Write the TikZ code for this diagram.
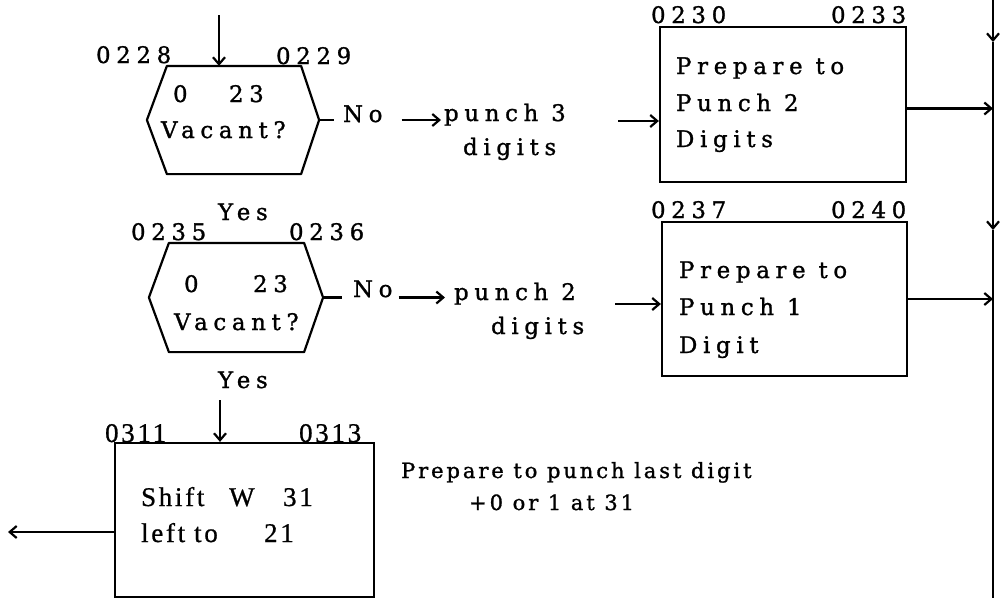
\documentclass[tikz,border=0pt]{standalone}
\usepackage{fontspec}
\setmainfont{DejaVu Serif}[LetterSpace=25,FakeBold=1.2]
\newfontfamily\midfont{DejaVu Serif}[LetterSpace=14,FakeBold=1.2]
\newfontfamily\tightfont{Liberation Serif}[LetterSpace=10,FakeBold=0.8]
\usetikzlibrary{arrows.meta,calc}
\begin{document}
\begin{tikzpicture}[x=1pt,y=-1pt,line width=2.2pt,
  txt/.style={inner sep=0pt,anchor=base west,font=\fontsize{22.8}{36}\selectfont},
  mtxt/.style={inner sep=0pt,anchor=base west,font=\midfont\fontsize{21}{36}\selectfont},
  ttxt/.style={inner sep=0pt,anchor=base west,font=\tightfont\fontsize{27}{36}\selectfont},
  arr/.style={-{Straight Barb[length=7pt,width=12pt]}},
  box/.style={draw,inner sep=0pt},
  hexbase/.style={inner sep=0pt}]
\useasboundingbox (0,0) rectangle (1006,598);

% vertical bus line
\coordinate (vt) at (993,0);
\coordinate (vm1) at (993,42);
\coordinate (vm2) at (993,230);
\coordinate (vb) at (993,598);
\draw[arr] (vt) -- (vm1);
\draw[arr] (vm1) -- (vm2);
\draw (vm2) -- (vb);

% ---------- first decision ----------
\node[hexbase,minimum width=132pt,minimum height=106pt] (h1) at (234,120) {};
\coordinate (h1r) at ([xshift=18pt]h1.east);
\coordinate (h1l) at ([xshift=-20pt]h1.west);
\draw[line join=round] (h1.north west) -- (h1.north east) -- (h1r) -- (h1.south east) -- (h1.south west) -- (h1l) -- cycle;
\coordinate (a1) at (219,15);
\draw[arr] (a1) -- (a1 |- h1.north);
\node[txt] (l0228) at (95,63) {0228};
\node[txt] (l0229) at (275,64) {0229};
\node[txt] (h1n) at (172,102) {\makebox[56pt][l]{0}23};
\node[txt] (h1q) at (160,138) {Vacant?};
\node[txt] (no1) at (342,122) {No};
\draw[shorten >=8pt] (h1r) -- (h1r -| no1.west);
\node[txt] (p1a) at (443,121) {punch 3};
\node[txt] (p1b) at (462,155) {digits};
\draw[arr,shorten <=18pt,shorten >=2pt] (h1r -| no1.east) -- (h1r -| p1a.west);

% ---------- first box ----------
\node[box,minimum width=246pt,minimum height=155pt] (b1) at (783,104.5) {};
\node[txt] (l0230) at (650,23) {0230};
\node[txt] (l0233) at (830,23) {0233};
\node[txt] (b1a) at (675,74) {Prepare to};
\node[txt] (b1b) at (675,111) {Punch 2};
\node[txt] (b1c) at (675,147) {Digits};
\coordinate (c1) at (618,121);
\draw[arr] (c1) -- (c1 -| b1.west);
\draw[arr] ([yshift=-4pt]b1.east) -- ([yshift=-4pt]b1.east -| vt);

% ---------- second decision ----------
\node[txt] (y1) at (217,220) {Yes};
\node[hexbase,minimum width=133pt,minimum height=107pt] (h2) at (236.5,297.5) {};
\coordinate (h2r) at ([xshift=19pt]h2.east);
\coordinate (h2l) at ([xshift=-20pt]h2.west);
\draw[line join=round] (h2.north west) -- (h2.north east) -- (h2r) -- (h2.south east) -- (h2.south west) -- (h2l) -- cycle;
\node[txt] (l0235) at (130,240) {0235};
\node[txt] (l0236) at (288,240) {0236};
\node[txt] (h2n) at (183,292) {\makebox[69pt][l]{0}23};
\node[txt] (h2q) at (173,330) {Vacant?};
\node[txt] (y2) at (217,388) {Yes};
\node[txt] (no2) at (352,297) {No};
\draw[shorten >=10pt] (h2r) -- (h2r -| no2.west);
\node[txt] (p2a) at (453,300) {punch 2};
\node[txt] (p2b) at (490,334) {digits};
\draw[arr,shorten <=5pt,shorten >=8pt] (h2r -| no2.east) -- (h2r -| p2a.west);

% ---------- second box ----------
\node[box,minimum width=245pt,minimum height=154pt] (b2) at (784.5,299) {};
\node[txt] (l0237) at (650,218) {0237};
\node[txt] (l0240) at (830,218) {0240};
\node[txt] (b2a) at (678,278) {Prepare to};
\node[txt] (b2b) at (678,315) {Punch 1};
\node[txt] (b2c) at (678,353) {Digit};
\coordinate (c2) at (615,304);
\draw[arr] (c2) -- (c2 -| b2.west);
\draw[arr] (b2.east) -- (b2.east -| vt);

% ---------- third box ----------
\node[box,minimum width=259pt,minimum height=154pt] (b3) at (244.5,520) {};
\node[ttxt] (l0311) at (104,442) {0311};
\node[ttxt] (l0313) at (298,442) {0313};
\coordinate (a3) at (220,400);
\draw[arr] (a3) -- (a3 |- b3.north);
\node[ttxt] (b3a) at (140,506) {\makebox[88pt][l]{Shift}\makebox[54pt][l]{W}31};
\node[ttxt] (b3b) at (140,542) {\makebox[53pt][l]{left}\makebox[70pt][l]{to}21};
\coordinate (e3) at (8,532);
\draw[arr] (e3 -| b3.west) -- (e3);

\node[mtxt] (n1) at (400,478) {Prepare to punch last digit};
\node[mtxt] (n2) at (468,510) {+\hspace{3pt}0 or 1 at 31};
\end{tikzpicture}
\end{document}
